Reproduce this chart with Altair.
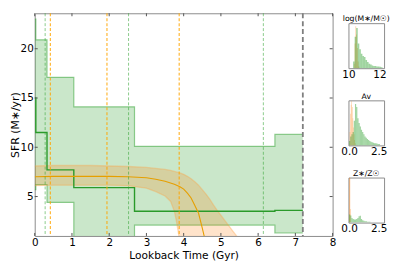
import altair as alt
import pandas as pd

# ---------------- main panel data ----------------
# non-parametric (green) SFH: bin edges (Gyr) and SFR percentiles per bin
bin_edges = [0.0, 0.03, 0.33, 1.05, 2.68, 6.45, 7.2]
sfr_upper = [23.0, 20.9, 17.1, 14.1, 10.1, 11.3]
sfr_median = [15.0, 11.5, 7.7, 5.9, 3.5, 3.6]
sfr_lower = [5.7, 6.2, 4.4, 0.5, 2.1, 1.3]

# parametric (orange) SFH band
par_t = [0.0, 0.5, 1.0, 1.5, 2.0, 2.5, 3.0, 3.25, 3.5, 3.65, 3.75, 3.8, 3.85, 3.9,
         4.0, 4.1, 4.2, 4.3, 4.4, 4.5, 4.6, 4.7, 4.8, 4.9, 5.0, 5.1, 5.2, 5.3, 5.4, 5.5]
par_upper = [8.1, 8.15, 8.15, 8.15, 8.1, 8.05, 7.95, 7.85, 7.75, 7.65, 7.55, 7.5, 7.45, 7.4,
             7.25, 7.05, 6.8, 6.5, 6.15, 5.7, 5.25, 4.75, 4.15, 3.6, 3.1, 2.6, 2.1, 1.6, 1.1, 0.6]
par_lower = [6.1, 6.15, 6.15, 6.15, 6.15, 6.1, 5.85, 5.5, 5.05, 4.5, 3.5, 2.6, 1.5, 0.3,
             0, 0, 0, 0, 0, 0, 0, 0, 0, 0, 0, 0, 0, 0, 0, 0]
med_t = [0.0, 0.5, 1.0, 1.5, 2.0, 2.5, 3.0, 3.25, 3.5, 3.75, 3.9, 4.0, 4.1, 4.2, 4.3, 4.4, 4.5, 4.6]
med_sfr = [7.0, 7.05, 7.05, 7.05, 7.05, 7.0, 6.9, 6.75, 6.55, 6.25, 6.0, 5.75, 5.35, 4.85, 4.1, 3.3, 1.8, 0.2]

green_vlines = [0.28, 2.52, 6.14]
orange_vlines = [0.42, 1.94, 3.88]
gray_vline = [7.2]

x_ticks = [0, 1, 2, 3, 4, 5, 6, 7, 8]
y_ticks = [5, 10, 15, 20]

# ---------------- histogram data ----------------
def edges(start, width, n):
    return [round(start + i * width, 4) for i in range(n + 1)]

mass_g_edges = edges(10.3, 0.1, 19)
mass_g_h = [0.15, 0.7, 0.89, 0.55, 0.42, 0.32, 0.27, 0.25, 0.18, 0.14, 0.1, 0.08, 0.06,
            0.05, 0.05, 0.04, 0.04, 0.03, 0.02]
mass_o_edges = edges(10.35, 0.05, 7)
mass_o_h = [0.1, 0.55, 0.93, 0.75, 0.45, 0.15, 0.04]

av_g_edges = edges(0.0, 0.1, 26)
av_g_h = [0.1, 0.2, 0.25, 0.3, 0.55, 0.92, 0.85, 0.6, 0.5, 0.42, 0.35, 0.3, 0.25, 0.2,
          0.17, 0.14, 0.12, 0.1, 0.08, 0.07, 0.06, 0.05, 0.05, 0.04, 0.03, 0.03]
av_o_edges = edges(0.05, 0.05, 10)
av_o_h = [0.3, 0.7, 0.9, 0.98, 0.85, 0.6, 0.4, 0.25, 0.12, 0.05]

z_g_edges = edges(0.0, 0.1, 18)
z_g_h = [0.18, 0.16, 0.1, 0.08, 0.07, 0.07, 0.08, 0.1, 0.14, 0.15, 0.08, 0.05, 0.04,
         0.03, 0.03, 0.02, 0.02, 0.02]
z_o_edges = [0.0, 0.1, 0.15]
z_o_h = [1.0, 0.3]

FONT = "DejaVu Sans"
W, H = 301, 225

xs = alt.Scale(domain=[0, 8], nice=False, zero=False)
ys = alt.Scale(domain=[1, 23.6], nice=False, zero=False)
xax = alt.Axis(values=x_ticks, format="d", title="Lookback Time (Gyr)", labelFontSize=10.5,
               titleFontSize=10.7, labelPadding=2, titlePadding=2, labelFlush=False)
yax = alt.Axis(values=y_ticks, format="d", title="SFR (M∗/yr)", labelFontSize=10.5,
               titleFontSize=11, labelPadding=1.5, titlePadding=0, labelFlush=False)

def X(f):
    return alt.X(f, type="quantitative", scale=xs, axis=xax)

def Y(f):
    return alt.Y(f, type="quantitative", scale=ys, axis=yax)

green_df = pd.DataFrame({
    "t": bin_edges,
    "up": sfr_upper + [sfr_upper[-1]],
    "med": sfr_median + [sfr_median[-1]],
    "lo": sfr_lower + [sfr_lower[-1]],
})
par_df = pd.DataFrame({"t": par_t, "up": par_upper, "lo": par_lower})
med_df = pd.DataFrame({"t": med_t, "m": med_sfr})

g_area = alt.Chart(green_df).mark_area(interpolate="step-after", color="#2ca02c", opacity=0.25,
                                       clip=True).encode(x=X("t"), y=Y("up"), y2="lo")
g_up = alt.Chart(green_df).mark_line(interpolate="step-after", color="#2ca02c", opacity=0.5,
                                     strokeWidth=1.2, clip=True).encode(x=X("t"), y=Y("up"))
g_lo = alt.Chart(green_df).mark_line(interpolate="step-after", color="#2ca02c", opacity=0.5,
                                     strokeWidth=1.2, clip=True).encode(x=X("t"), y=Y("lo"))
g_med = alt.Chart(green_df).mark_line(interpolate="step-after", color="#2a9a2a",
                                      strokeWidth=1.4, clip=True).encode(x=X("t"), y=Y("med"))

o_area = alt.Chart(par_df).mark_area(color="#ff7f0e", opacity=0.22, clip=True).encode(
    x=X("t"), y=Y("up"), y2="lo")
o_up = alt.Chart(par_df).mark_line(color="#ffa040", opacity=0.35, strokeWidth=1.3, clip=True).encode(
    x=X("t"), y=Y("up"))
o_lo = alt.Chart(par_df).mark_line(color="#ffa040", opacity=0.35, strokeWidth=1.3, clip=True).encode(
    x=X("t"), y=Y("lo"))
o_med = alt.Chart(med_df).mark_line(color="#e69f00", strokeWidth=1.1, clip=True).encode(
    x=X("t"), y=Y("m"))

gv = alt.Chart(pd.DataFrame({"v": green_vlines})).mark_rule(
    color="#2ca02c", opacity=0.55, strokeWidth=1, strokeDash=[3, 2]).encode(x=X("v"))
ov = alt.Chart(pd.DataFrame({"v": orange_vlines})).mark_rule(
    color="#ffa500", opacity=0.8, strokeWidth=1.2, strokeDash=[3, 2]).encode(x=X("v"))
grv = alt.Chart(pd.DataFrame({"v": gray_vline})).mark_rule(
    color="#7f7f7f", strokeWidth=1.8, strokeDash=[5, 3]).encode(x=X("v"))

xt_df = pd.DataFrame({"v": x_ticks})
yt_df = pd.DataFrame({"v": y_ticks})
TC = "#555555"
tk_b = alt.Chart(xt_df).mark_rule(color=TC).encode(x=X("v"), y=alt.value(H - 3), y2=alt.value(H))
tk_t = alt.Chart(xt_df).mark_rule(color=TC).encode(x=X("v"), y=alt.value(0), y2=alt.value(3))
tk_l = alt.Chart(yt_df).mark_rule(color=TC).encode(y=Y("v"), x=alt.value(0), x2=alt.value(3))
tk_r = alt.Chart(yt_df).mark_rule(color=TC).encode(y=Y("v"), x=alt.value(W - 3), x2=alt.value(W))

main = alt.layer(g_area, g_up, g_lo, o_area, o_up, o_lo, g_med, o_med, gv, ov, grv,
                 tk_b, tk_t, tk_l, tk_r).properties(width=W, height=H)


def hist_df(e, h):
    return pd.DataFrame({"lo": e[:-1], "hi": e[1:], "h": h})


def hist_panel(title, dom, ticks, fmt, o_e, o_h, g_e, g_h):
    hxs = alt.Scale(domain=dom, nice=False, zero=False)
    hys = alt.Scale(domain=[0, 1], nice=False, zero=False)
    hax = alt.Axis(values=ticks, format=fmt, labelFontSize=10.5, labelPadding=1, title=None,
                   labelFlush=False)
    o = alt.Chart(hist_df(o_e, o_h)).mark_rect(color="#ff7f0e", opacity=0.4, clip=True).encode(
        x=alt.X("lo:Q", scale=hxs, axis=hax), x2="hi:Q",
        y=alt.Y("h:Q", scale=hys, axis=None), y2=alt.datum(0))
    g = alt.Chart(hist_df(g_e, g_h)).mark_rect(color="#2ca02c", opacity=0.45, clip=True).encode(
        x=alt.X("lo:Q", scale=hxs, axis=hax), x2="hi:Q",
        y=alt.Y("h:Q", scale=hys, axis=None), y2=alt.datum(0))
    return alt.layer(o, g).properties(
        width=36, height=45.5,
        title=alt.TitleParams(title, fontSize=7.8, offset=0, font=FONT, fontWeight="normal"))


h1 = hist_panel("log(M∗/M☉)", [10, 12.3], [10, 12], "d", mass_o_edges, mass_o_h, mass_g_edges, mass_g_h)
h2 = hist_panel("Av", [-0.05, 2.95], [0, 2.5], ".1f", av_o_edges, av_o_h, av_g_edges, av_g_h)
h3 = hist_panel("Z∗/Z☉", [-0.05, 2.95], [0, 2.5], ".1f", z_o_edges, z_o_h, z_g_edges, z_g_h)

spacer = alt.Chart(pd.DataFrame({"s": [0]})).mark_point(opacity=0).encode(
    x=alt.value(0), y=alt.value(0)).properties(
    width=36, height=1, view=alt.ViewBackground(stroke="transparent"))

inner = alt.vconcat(h1, h2, h3, spacing=32, bounds="flush")
right = alt.vconcat(spacer, inner, spacing=9, bounds="flush")

chart = alt.hconcat(main, right, spacing=16, bounds="flush").properties(
    padding={"left": 0, "top": 0, "right": 0, "bottom": 0}
).configure_axis(
    grid=False, domain=False, ticks=False, tickSize=0, labelFont=FONT, titleFont=FONT,
    labelColor="#000000", titleColor="#000000", titleFontWeight="normal"
).configure_view(stroke="#8c8c8c", strokeWidth=1).configure_title(font=FONT, color="#000000")

chart.save("out.html", embed_options={"renderer": "svg", "actions": False})
